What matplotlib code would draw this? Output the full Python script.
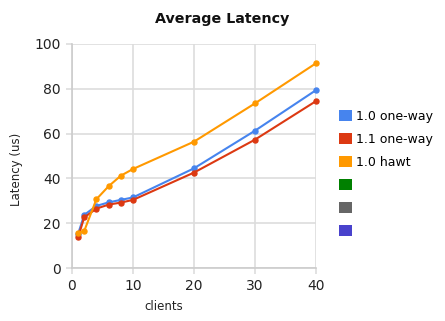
import matplotlib
matplotlib.use('Agg')
import matplotlib.pyplot as plt
from matplotlib.patches import Patch

clients = [1, 2, 4, 6, 8, 10, 20, 30, 40]
one_way_10 = [15.2, 23.7, 27.7, 29.3, 30.4, 31.5, 44.5, 61.3, 79.4]
one_way_11 = [13.7, 22.6, 26.5, 28.3, 29.2, 30.4, 42.6, 57.3, 74.5]
hawt_10 = [15.8, 16.5, 30.7, 36.5, 41.2, 44.2, 56.4, 73.5, 91.4]

series_names = ['1.0 one-way', '1.1 one-way', '1.0 hawt', '', '', '']
colors = ['#4684ee', '#dc3912', '#ff9900', '#008000', '#666666', '#4942cc']

W, H = 445, 321
fig = plt.figure(figsize=(W / 100, H / 100), dpi=100)
ax = fig.add_axes([72/W, 1 - 268/H, 244/W, 224/H])

for vals, c in zip([one_way_10, one_way_11, hawt_10], colors):
    ax.plot(clients, vals, color=c, lw=1.5, marker='o', ms=3.6, clip_on=False, zorder=3)

ax.set_xlim(0, 40)
ax.set_ylim(0, 100)
ax.set_xticks([0, 10, 20, 30, 40])
ax.set_yticks([0, 20, 40, 60, 80, 100])
ax.grid(True, color='#dddddd', lw=1.2)
ax.set_axisbelow(True)
for s in ['top', 'right']:
    ax.spines[s].set_visible(False)
for s in ['left', 'bottom']:
    ax.spines[s].set_color('#cccccc')
    ax.spines[s].set_linewidth(1.2)
ax.tick_params(length=4, color='#dddddd', width=1.2, labelsize=10, labelcolor='#222222', pad=4)

# title, axis labels placed in figure coords like the original
fig.text(0.5, 1 - 19/H, 'Average Latency', fontsize=10.3, fontweight='bold',
         ha='center', va='center', color='#111111')
fig.text(164/W, 1 - 306/H, 'clients', fontsize=8.5, color='#222222', ha='center', va='center')
fig.text(17/W, 1 - 169.5/H, 'Latency (us)', fontsize=8.5, color='#222222',
         rotation=90, ha='center', va='center')

handles = [Patch(facecolor=c, edgecolor='none', label=n) for c, n in zip(colors, series_names)]
fig.legend(handles=handles, loc='upper left', bbox_to_anchor=(339/W, 1 - 110/H),
           frameon=False, fontsize=9, handlelength=1.0, handleheight=1.0,
           handletextpad=0.4, labelspacing=0.8, borderaxespad=0, borderpad=0)

fig.savefig('out.png', dpi=100)
